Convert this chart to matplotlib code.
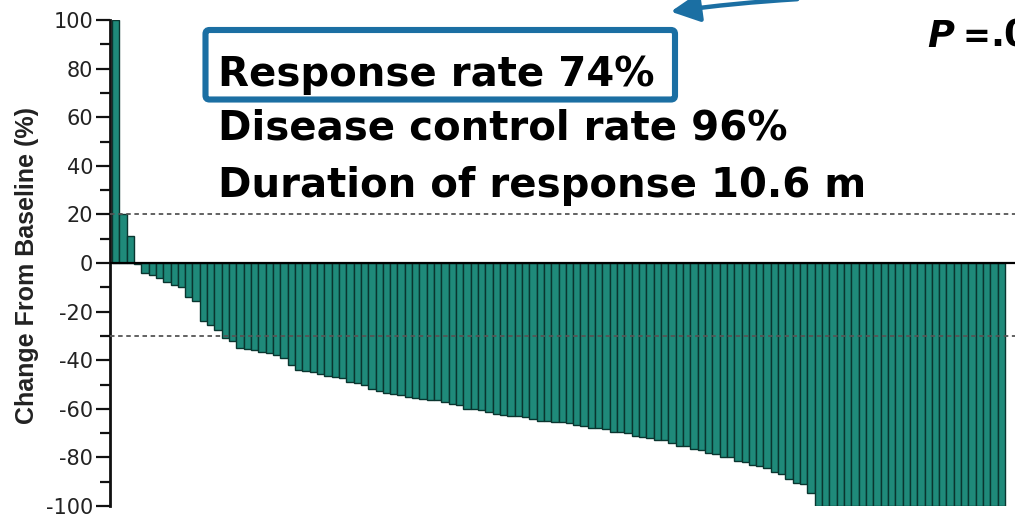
import matplotlib
matplotlib.use("Agg")
import matplotlib.pyplot as plt
import matplotlib.patches as mpatches
from matplotlib.transforms import IdentityTransform
import numpy as np

plt.rcParams["axes.unicode_minus"] = False

# ---- data (percent change from baseline, one value per patient, sorted) ----
changes = [
    100, 20, 11, -0.5,
    -4, -5, -6, -8, -9, -10, -14, -15.5, -24, -25.5, -27.5, -31, -32, -35, -35.5, -36, -36.5,
    -37, -38, -39, -42, -44, -44.5, -45, -45.5, -46.5, -47, -47.5, -49, -49.5, -50,
    -52, -52.5, -53.5, -54, -54.5, -55, -55.5, -56, -56.5, -56.5, -57, -58, -58.5,
    -60, -60, -60.5, -61.5, -62, -62.5, -63, -63, -63.5, -64, -65, -65, -65.5, -65.5,
    -66, -66.5, -67, -68, -68, -68.5, -69.5, -69.5, -70, -71, -71.5, -72, -73, -73,
    -74, -75.5, -75.5, -76.5, -77, -78, -78.5, -80, -80, -81.5, -82, -83, -83.5,
    -84.5, -86, -87, -89, -90.5, -91, -94.5,
    -100, -100, -100, -100, -100, -100, -100, -100, -100, -100, -100, -100, -100,
    -100, -100, -100, -100, -100, -100, -100, -100, -100, -100, -100, -100, -100,
]
thresholds = [20, -30]
y_ticks = [-100, -80, -60, -40, -20, 0, 20, 40, 60, 80, 100]
y_label = "Change From Baseline (%)"
summary_lines = ["Response rate 74%", "Disease control rate 96%", "Duration of response 10.6 m"]
p_text = ["P", "=", ".0"]

W, H = 1015, 516
fig = plt.figure(figsize=(W / 100, H / 100), dpi=100)
fig.patch.set_facecolor("white")

ax = fig.add_axes([110 / W, 10 / H, (W - 110) / W, 486 / H])
x = np.arange(len(changes))
ax.bar(x, changes, width=1.0, align="edge", color="#1f8a7a",
       edgecolor="#0a352f", linewidth=1.0, zorder=2)

ax.set_ylim(-100, 100)
ax.set_xlim(-0.27, 123.36)

for t in thresholds:
    ax.axhline(t, color="#555555", lw=1.3, ls=(0, (2.5, 2)), zorder=4)
ax.axhline(0, color="black", lw=1.6, zorder=3)

for s in ["top", "right", "bottom"]:
    ax.spines[s].set_visible(False)
ax.spines["left"].set_linewidth(2.0)
ax.spines["left"].set_color("#111111")
ax.set_xticks([])
ax.set_yticks(y_ticks)
ax.set_yticks(np.arange(-90, 100, 20), minor=True)
ax.tick_params(axis="y", which="major", length=10, width=1.6, color="#111111",
               labelsize=15, labelcolor="#222222", pad=2)
ax.tick_params(axis="y", which="minor", length=7, width=1.6, color="#111111")
for lab in ax.get_yticklabels():
    lab.set_family("DejaVu Sans")

fig.text(27 / W, 1 - 265 / H, y_label, rotation=90, ha="center", va="center",
         fontsize=18, fontweight="bold", family="Liberation Sans", color="#222222")

# summary text lines
baselines = [86, 140, 197]
for line, b in zip(summary_lines, baselines):
    fig.text(218 / W, 1 - b / H, line, ha="left", va="baseline",
             fontsize=29, fontweight="bold", family="DejaVu Sans", color="black")

blue = "#1b6fa3"
box = mpatches.FancyBboxPatch((205.5, H - 99.5), 675 - 205.5, 99.5 - 30,
                              boxstyle="round,pad=0,rounding_size=4",
                              transform=IdentityTransform(), fill=False,
                              edgecolor=blue, linewidth=4.4)
fig.add_artist(box)

arrow = mpatches.FancyArrowPatch((800, H + 1), (668, H - 12),
                                 transform=IdentityTransform(),
                                 arrowstyle="-|>,head_length=0.8,head_width=0.4",
                                 mutation_scale=22, color=blue, lw=3.2,
                                 connectionstyle="arc3,rad=0.02")
fig.add_artist(arrow)

fig.text(927 / W, 1 - 47 / H, p_text[0], ha="left", va="baseline", fontsize=26.5,
         fontweight="bold", fontstyle="italic", family="DejaVu Sans", color="black")
fig.text(962 / W, 1 - 47 / H, p_text[1], ha="left", va="baseline", fontsize=24,
         fontweight="bold", family="DejaVu Sans", color="black")
fig.text(990 / W, 1 - 47 / H, p_text[2], ha="left", va="baseline", fontsize=26.5,
         fontweight="bold", family="DejaVu Sans", color="black")

fig.savefig("out.png", dpi=100)
